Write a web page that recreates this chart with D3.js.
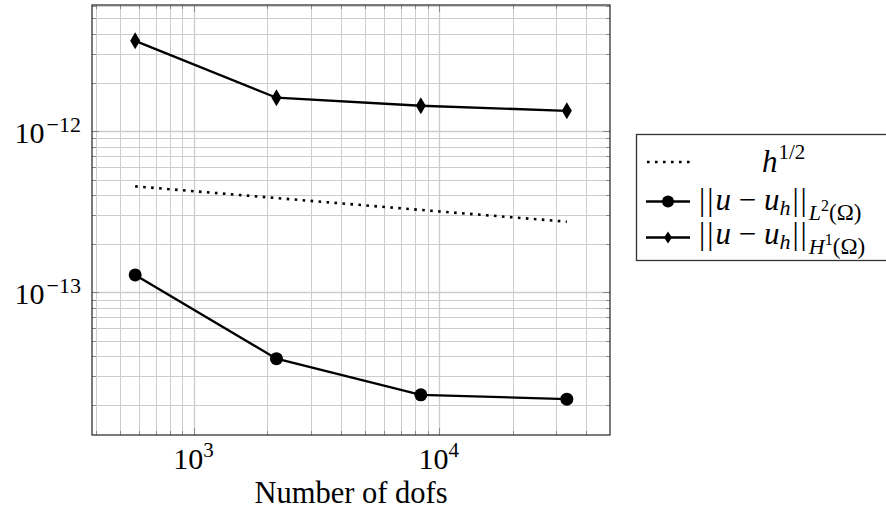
<!DOCTYPE html>
<html>
<head>
<meta charset="utf-8">
<script src="https://cdn.jsdelivr.net/npm/d3@7"></script>
<style>
  body { margin: 0; background: #fff; }
</style>
</head>
<body>
<svg id="chart" width="886" height="520" font-family="Liberation Serif, DejaVu Serif, serif"></svg>
<script>
(function (w) {
  const dofs = [578, 2178, 8450, 33282]
  const hHalf = [4.54e-13, 3.84e-13, 3.24e-13, 2.74e-13]
  const errL2 = [1.28e-13, 3.87e-14, 2.31e-14, 2.17e-14]
  const errH1 = [3.63e-12, 1.61e-12, 1.436e-12, 1.336e-12]
  const xTickLabels = ['3', '4']
  const yTickLabels = ['−13', '−12']

  const left = 92
  const right = 610
  const top = 5
  const bottom = 435

  // pgfplots style: enlarge limits by 10% of the log range
  const enlarge = (vals) => {
    const lo = Math.log10(d3.min(vals))
    const hi = Math.log10(d3.max(vals))
    const pad = (hi - lo) * 0.1
    return [Math.pow(10, lo - pad), Math.pow(10, hi + pad)]
  }

  const x = d3.scaleLog().domain(enlarge(dofs)).range([left, right])
  const y = d3.scaleLog().domain(enlarge(errH1.concat(errL2))).range([bottom, top])

  const svg = d3.select('#chart')

  const xTicks = x.ticks().filter((t) => t >= x.domain()[0] && t <= x.domain()[1])
  const yTicks = y.ticks().filter((t) => t >= y.domain()[0] && t <= y.domain()[1])
  const isMajor = (t) => Math.abs(Math.log10(t) - Math.round(Math.log10(t))) < 1e-9

  // grid
  const grid = svg.append('g').attr('stroke', '#cccccc').attr('stroke-width', 1)
  grid.selectAll('.gx').data(xTicks).enter().append('line')
    .attr('x1', (d) => Math.round(x(d)) + 0.5).attr('x2', (d) => Math.round(x(d)) + 0.5)
    .attr('y1', top).attr('y2', bottom)
    .attr('stroke-width', (d) => isMajor(d) ? 1.3 : 1)
  grid.selectAll('.gy').data(yTicks).enter().append('line')
    .attr('y1', (d) => Math.round(y(d)) + 0.5).attr('y2', (d) => Math.round(y(d)) + 0.5)
    .attr('x1', left).attr('x2', right)
    .attr('stroke-width', (d) => isMajor(d) ? 1.3 : 1)

  // tick marks on all four sides, inside
  const ticks = svg.append('g').attr('stroke', '#8a8a8a').attr('stroke-width', 1)
  xTicks.forEach((t) => {
    const len = isMajor(t) ? 7 : 4
    const px = Math.round(x(t)) + 0.5
    ticks.append('line').attr('x1', px).attr('x2', px).attr('y1', bottom).attr('y2', bottom - len)
    ticks.append('line').attr('x1', px).attr('x2', px).attr('y1', top).attr('y2', top + len)
  })
  yTicks.forEach((t) => {
    const len = isMajor(t) ? 7 : 4
    const py = Math.round(y(t)) + 0.5
    ticks.append('line').attr('y1', py).attr('y2', py).attr('x1', left).attr('x2', left + len)
    ticks.append('line').attr('y1', py).attr('y2', py).attr('x1', right).attr('x2', right - len)
  })

  // frame
  svg.append('rect')
    .attr('x', left).attr('y', top)
    .attr('width', right - left).attr('height', bottom - top)
    .attr('fill', 'none').attr('stroke', '#333').attr('stroke-width', 1.3)

  // tick labels
  const xMajor = xTicks.filter(isMajor)
  xMajor.forEach((t, i) => {
    const tx = svg.append('text')
      .attr('x', x(t)).attr('y', 469)
      .attr('text-anchor', 'middle')
      .attr('font-size', 30)
    tx.append('tspan').text('10')
    tx.append('tspan').attr('dy', -12).attr('font-size', 21).text(xTickLabels[i])
  })
  const yMajor = yTicks.filter(isMajor)
  yMajor.forEach((t, i) => {
    const ty = svg.append('text')
      .attr('x', 81).attr('y', y(t) + 11.5)
      .attr('text-anchor', 'end')
      .attr('font-size', 30)
    ty.append('tspan').text('10')
    ty.append('tspan').attr('dx', 2).attr('dy', -11).attr('font-size', 22).text(yTickLabels[i])
  })

  svg.append('text')
    .attr('x', (left + right) / 2).attr('y', 503)
    .attr('text-anchor', 'middle')
    .attr('font-size', 30.5)
    .text('Number of dofs')

  // series
  const line = (vals) => d3.line()
    .x((d, i) => x(dofs[i]))
    .y((d) => y(d))(vals)

  svg.append('path')
    .attr('d', line(hHalf))
    .attr('fill', 'none').attr('stroke', '#000')
    .attr('stroke-width', 2.6).attr('stroke-dasharray', '2.6 5.4')

  svg.append('path')
    .attr('d', line(errL2))
    .attr('fill', 'none').attr('stroke', '#000').attr('stroke-width', 2.3)
  svg.append('path')
    .attr('d', line(errH1))
    .attr('fill', 'none').attr('stroke', '#000').attr('stroke-width', 2.3)

  const diamond = (hw, hh) => `M0,${-hh}L${hw},0L0,${hh}L${-hw},0Z`

  svg.selectAll('.l2').data(errL2).enter().append('circle')
    .attr('cx', (d, i) => x(dofs[i])).attr('cy', (d) => y(d))
    .attr('r', 6.5).attr('fill', '#000')
  svg.selectAll('.h1').data(errH1).enter().append('path')
    .attr('d', diamond(5, 8.5))
    .attr('transform', (d, i) => `translate(${x(dofs[i])},${y(d)})`)
    .attr('fill', '#000')

  // legend
  const lg = svg.append('g')
  lg.append('rect')
    .attr('x', 636.5).attr('y', 134.5).attr('width', 260).attr('height', 126)
    .attr('fill', '#fff').attr('stroke', '#333').attr('stroke-width', 1.3)

  lg.append('line')
    .attr('x1', 647).attr('x2', 690).attr('y1', 162).attr('y2', 162)
    .attr('stroke', '#000').attr('stroke-width', 2.6).attr('stroke-dasharray', '2.6 5.4')
  const t1 = lg.append('text').attr('x', 762).attr('y', 171.5).attr('font-size', 31)
  t1.append('tspan').attr('font-style', 'italic').text('h')
  t1.append('tspan').attr('dx', 1).attr('dy', -13).attr('font-size', 21).text('1/2')

  const normRow = (yc, base, sub, sup) => {
    lg.append('line')
      .attr('x1', 646).attr('x2', 690).attr('y1', yc).attr('y2', yc)
      .attr('stroke', '#000').attr('stroke-width', 2.3)
    const t = lg.append('text').attr('x', 699).attr('y', base).attr('font-size', 31)
    t.append('tspan').attr('letter-spacing', 2).text('||')
    t.append('tspan').attr('font-style', 'italic').text('u')
    t.append('tspan').text(' − ')
    t.append('tspan').attr('font-style', 'italic').text('u')
    t.append('tspan').attr('font-style', 'italic').attr('font-size', 22).attr('dy', 5).text('h')
    t.append('tspan').attr('dx', 2).attr('dy', -5).attr('letter-spacing', 2).text('||')
    t.append('tspan').attr('font-style', 'italic').attr('font-size', 22).attr('dy', 10).text(sub)
    t.append('tspan').attr('font-size', 16).attr('dy', -9).text(sup)
    t.append('tspan').attr('font-size', 23).attr('dy', 9).text('(Ω)')
  }
  normRow(201.5, 209.5, 'L', '2')
  lg.append('circle').attr('cx', 668).attr('cy', 201.5).attr('r', 6).attr('fill', '#000')
  normRow(237.5, 244, 'H', '1')
  lg.append('path').attr('d', diamond(4, 6)).attr('transform', 'translate(668,237.5)').attr('fill', '#000')
})(window)
</script>
</body>
</html>
